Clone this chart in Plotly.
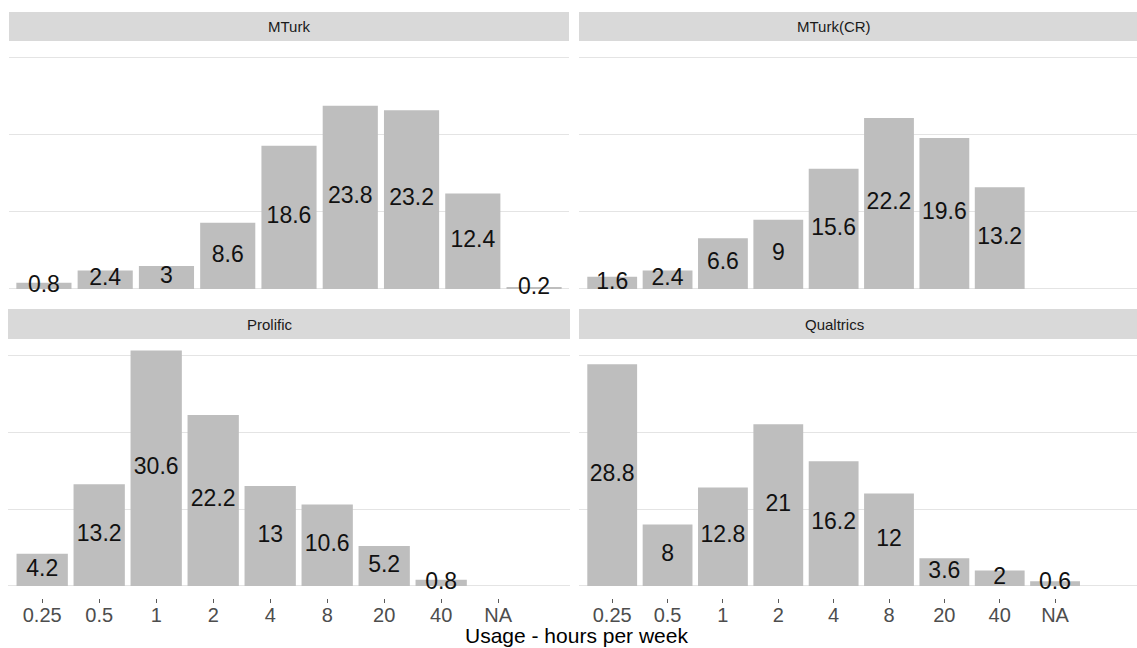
import plotly.graph_objects as go

categories = ["0.25", "0.5", "1", "2", "4", "8", "20", "40", "NA"]

mturk_cats = ["0.25", "0.5", "1", "2", "4", "8", "20", "40", "NA"]
mturk_vals = [0.8, 2.4, 3, 8.6, 18.6, 23.8, 23.2, 12.4, 0.2]

mturkcr_cats = ["0.25", "0.5", "1", "2", "4", "8", "20", "40"]
mturkcr_vals = [1.6, 2.4, 6.6, 9, 15.6, 22.2, 19.6, 13.2]

prolific_cats = ["0.25", "0.5", "1", "2", "4", "8", "20", "40"]
prolific_vals = [4.2, 13.2, 30.6, 22.2, 13, 10.6, 5.2, 0.8]

qualtrics_cats = ["0.25", "0.5", "1", "2", "4", "8", "20", "40", "NA"]
qualtrics_vals = [28.8, 8, 12.8, 21, 16.2, 12, 3.6, 2, 0.6]

panel_titles = ["MTurk", "MTurk(CR)", "Prolific", "Qualtrics"]
x_title = "Usage - hours per week"
y_gridvals = [0, 10, 20, 30]

W, H = 1137, 648
FONT = "Liberation Sans, Arial, Helvetica, sans-serif"
BAR = "#BEBEBE"
STRIP = "#D9D9D9"
GRID = "#E4E4E4"


def px_x(p):
    return p / W


def px_y(p):
    return 1 - p / H


panels = [
    # (cats, vals, axis suffix, x px domain, y px domain, x range, y range, strip px y, label center px x)
    (mturk_cats, mturk_vals, "", (9, 569), (41, 301), [-0.57, 8.57], [-1.56, 32.2], (12, 41), 289),
    (mturkcr_cats, mturkcr_vals, "2", (579, 1137), (41, 301), [-0.6, 9.48], [-1.56, 32.2], (12, 41), 834),
    (prolific_cats, prolific_vals, "3", (8, 570), (339, 598), [-0.6, 9.26], [-1.56, 32.08], (309, 339), 270),
    (qualtrics_cats, qualtrics_vals, "4", (579, 1137), (339, 598), [-0.6, 9.48], [-1.56, 32.08], (309, 339), 834),
]

fig = go.Figure()
layout = dict(
    width=W, height=H, autosize=False,
    margin=dict(l=0, r=0, t=0, b=0),
    paper_bgcolor="white", plot_bgcolor="white",
    showlegend=False,
    font=dict(family=FONT, color="#4D4D4D"),
    bargap=0.1,
)
shapes = []
annotations = []

for i, (cats, vals, sfx, xd, yd, xr, yr, sy, lx) in enumerate(panels):
    xa = "x" + sfx
    ya = "y" + sfx
    fig.add_trace(go.Bar(
        x=cats, y=vals, xaxis=xa, yaxis=ya,
        marker=dict(color=BAR, line=dict(width=0)),
        width=0.9, hoverinfo="x+y",
    ))
    fig.add_trace(go.Scatter(
        x=cats, y=[v / 2 for v in vals], xaxis=xa, yaxis=ya,
        mode="text", text=[f"{v:g}" for v in vals],
        textfont=dict(size=23, color="#111111", family=FONT),
        textposition="middle center", cliponaxis=False, hoverinfo="skip",
    ))
    bottom = i >= 2
    layout["xaxis" + sfx] = dict(
        domain=[px_x(xd[0]), px_x(xd[1])],
        anchor=ya,
        type="category",
        categoryorder="array", categoryarray=categories,
        range=xr,
        showgrid=False, zeroline=False, showline=False,
        showticklabels=bottom,
        ticks="outside" if bottom else "",
        ticklen=4, tickwidth=1, tickcolor="#5A5A5A",
        ticklabelstandoff=-5,
        tickfont=dict(size=20, color="#4D4D4D", family=FONT),
        fixedrange=True,
    )
    layout["yaxis" + sfx] = dict(
        domain=[px_y(yd[1]), px_y(yd[0])],
        anchor=xa,
        range=yr,
        tickmode="array", tickvals=y_gridvals,
        showticklabels=False, ticks="",
        showgrid=True, gridcolor=GRID, gridwidth=1.3,
        zeroline=False, showline=False,
        fixedrange=True,
    )
    shapes.append(dict(
        type="rect", xref="paper", yref="paper", layer="below",
        x0=px_x(xd[0]), x1=px_x(xd[1]),
        y0=px_y(sy[1]), y1=px_y(sy[0]),
        fillcolor=STRIP, line=dict(width=0),
    ))
    annotations.append(dict(
        xref="paper", yref="paper",
        x=px_x(lx), y=px_y((sy[0] + sy[1]) / 2),
        text=panel_titles[i], showarrow=False,
        xanchor="center", yanchor="middle",
        font=dict(size=15, color="#1A1A1A", family=FONT),
    ))

annotations.append(dict(
    xref="paper", yref="paper",
    x=px_x(576), y=0,
    text=x_title, showarrow=False,
    xanchor="center", yanchor="bottom", borderpad=0,
    font=dict(size=21, color="black", family=FONT),
))

layout["shapes"] = shapes
layout["annotations"] = annotations
fig.update_layout(**layout)

fig.write_html(
    "out.html",
    config={"displayModeBar": False},
    post_script="document.body.style.margin='0';document.body.style.overflow='hidden';",
)
